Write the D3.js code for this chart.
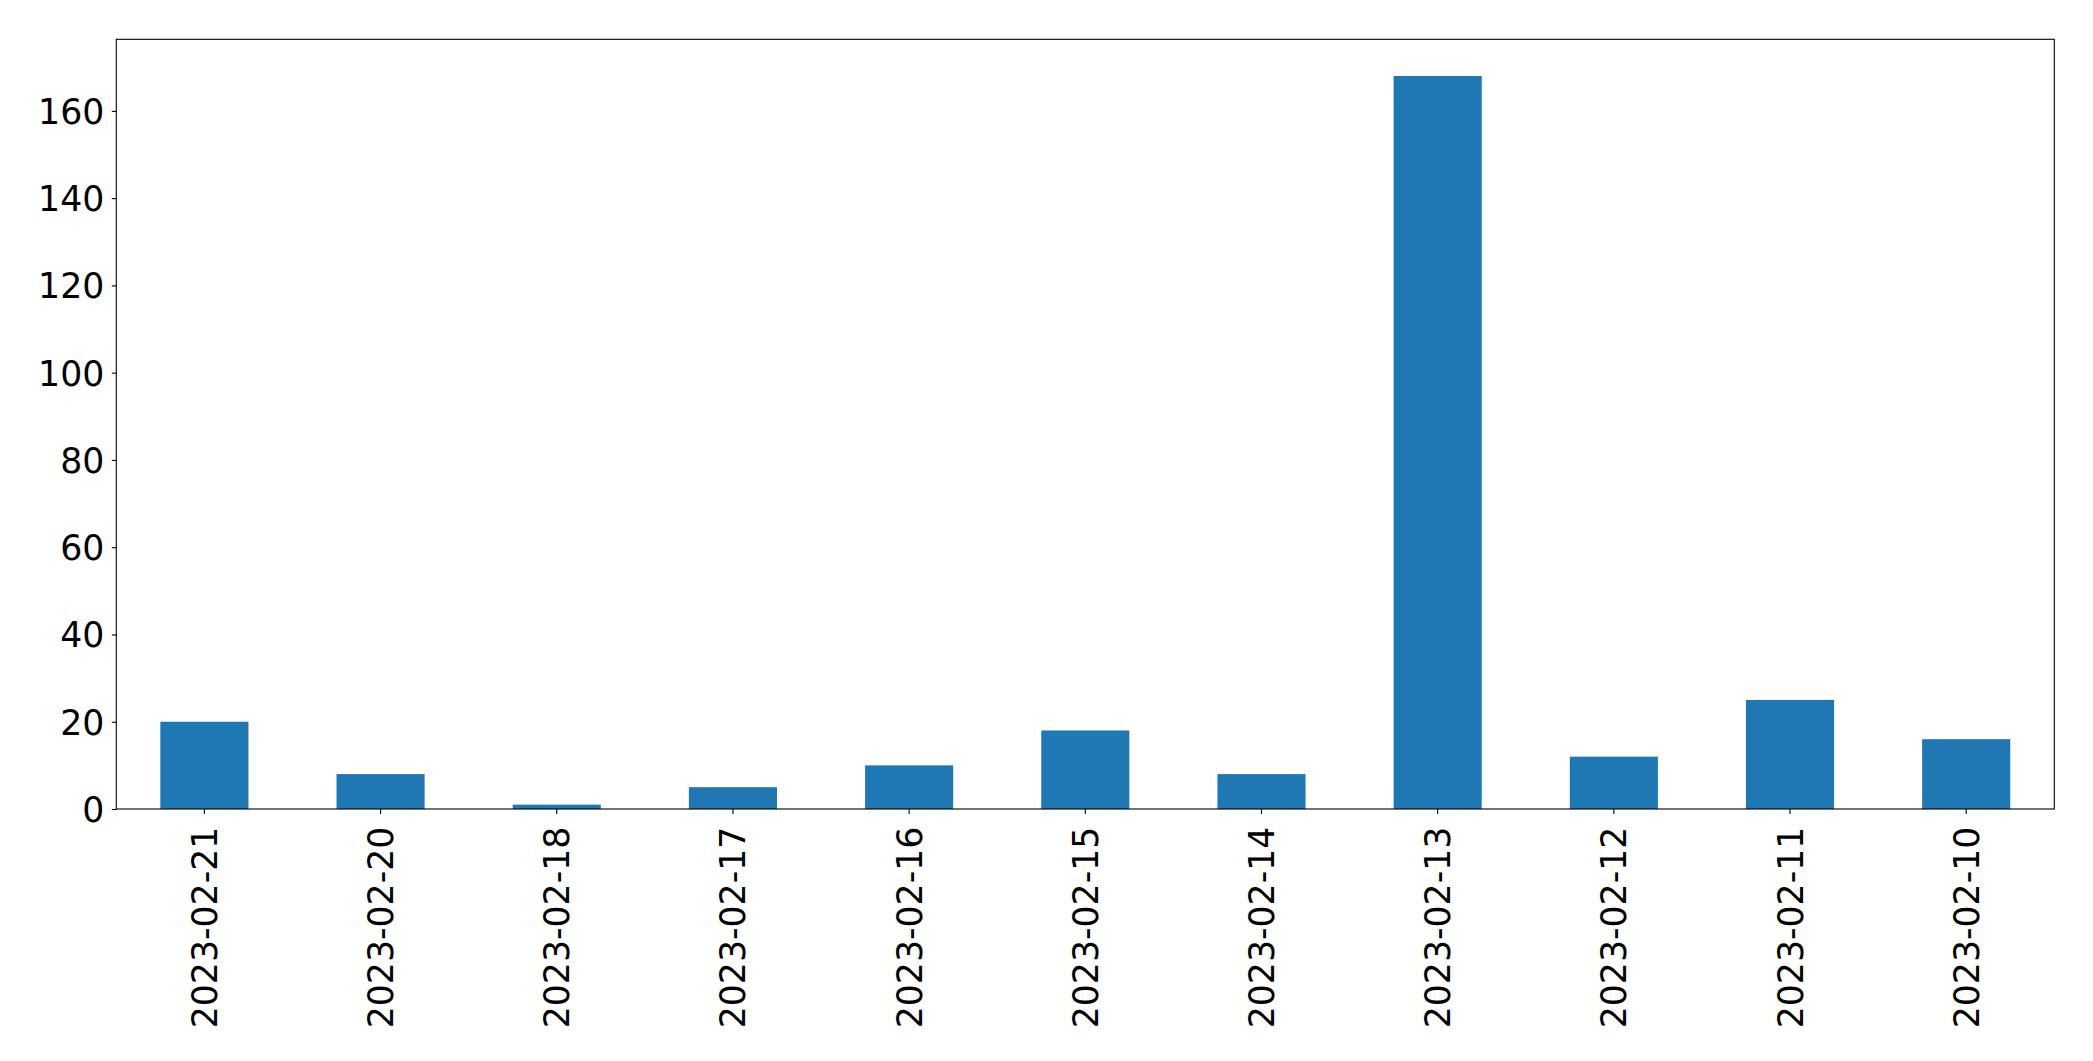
<!DOCTYPE html>
<html>
<head>
<meta charset="utf-8">
<script src="https://cdn.jsdelivr.net/npm/d3@7"></script>
<style>
  html, body { margin: 0; padding: 0; background: #fff; }
  svg { display: block; }
  text { font-family: "DejaVu Sans", sans-serif; fill: #000; }
</style>
</head>
<body>
<svg id="chart" width="2093" height="1061"></svg>
<script>
const categories = ["2023-02-21", "2023-02-20", "2023-02-18", "2023-02-17", "2023-02-16", "2023-02-15", "2023-02-14", "2023-02-13", "2023-02-12", "2023-02-11", "2023-02-10"];
const values = [20, 8, 1, 5, 10, 18, 8, 168, 12, 25, 16];
const yTicks = [0, 20, 40, 60, 80, 100, 120, 140, 160];

const W = 2093, H = 1061;
const m = { left: 116.3, right: 2054.3, top: 39.3, bottom: 809 };
const fontSize = 34.7;
const color = "#1f77b4";

const svg = d3.select("#chart");

const x = d3.scaleBand()
  .domain(categories)
  .range([m.left, m.right])
  .paddingInner(0.5)
  .paddingOuter(0.25);

const y = d3.scaleLinear()
  .domain([0, d3.max(values) * 1.05])
  .range([m.bottom, m.top]);

// bars
svg.append("g")
  .selectAll("rect")
  .data(values)
  .join("rect")
  .attr("x", (d, i) => x(categories[i]))
  .attr("y", d => y(d))
  .attr("width", x.bandwidth())
  .attr("height", d => y(0) - y(d))
  .attr("fill", color);

// y axis
const yAxis = d3.axisLeft(y)
  .tickValues(yTicks)
  .tickSize(4.5)
  .tickPadding(7.5)
  .tickFormat(d3.format("d"));
const gy = svg.append("g")
  .attr("transform", `translate(${m.left},0)`)
  .call(yAxis);
gy.select(".domain").remove();
gy.selectAll(".tick line").attr("stroke", "#000").attr("stroke-width", 1.1);
gy.selectAll(".tick text")
  .attr("font-size", fontSize)
  .attr("font-family", "DejaVu Sans")
  .attr("dy", "0.36em");

// x axis
const xAxis = d3.axisBottom(x)
  .tickSize(5)
  .tickPadding(0);
const gx = svg.append("g")
  .attr("transform", `translate(0,${m.bottom})`)
  .call(xAxis);
gx.select(".domain").remove();
gx.selectAll(".tick line").attr("stroke", "#000").attr("stroke-width", 1.1);
gx.selectAll(".tick text")
  .attr("font-size", fontSize)
  .attr("font-family", "DejaVu Sans")
  .attr("text-anchor", "end")
  .attr("transform", "translate(0,17.7) rotate(-90)")
  .attr("x", 0)
  .attr("y", 0)
  .attr("dy", "0.36em");

// frame
svg.append("rect")
  .attr("x", m.left)
  .attr("y", m.top)
  .attr("width", m.right - m.left)
  .attr("height", m.bottom - m.top)
  .attr("fill", "none")
  .attr("stroke", "#000")
  .attr("stroke-width", 1.1);
</script>
</body>
</html>
